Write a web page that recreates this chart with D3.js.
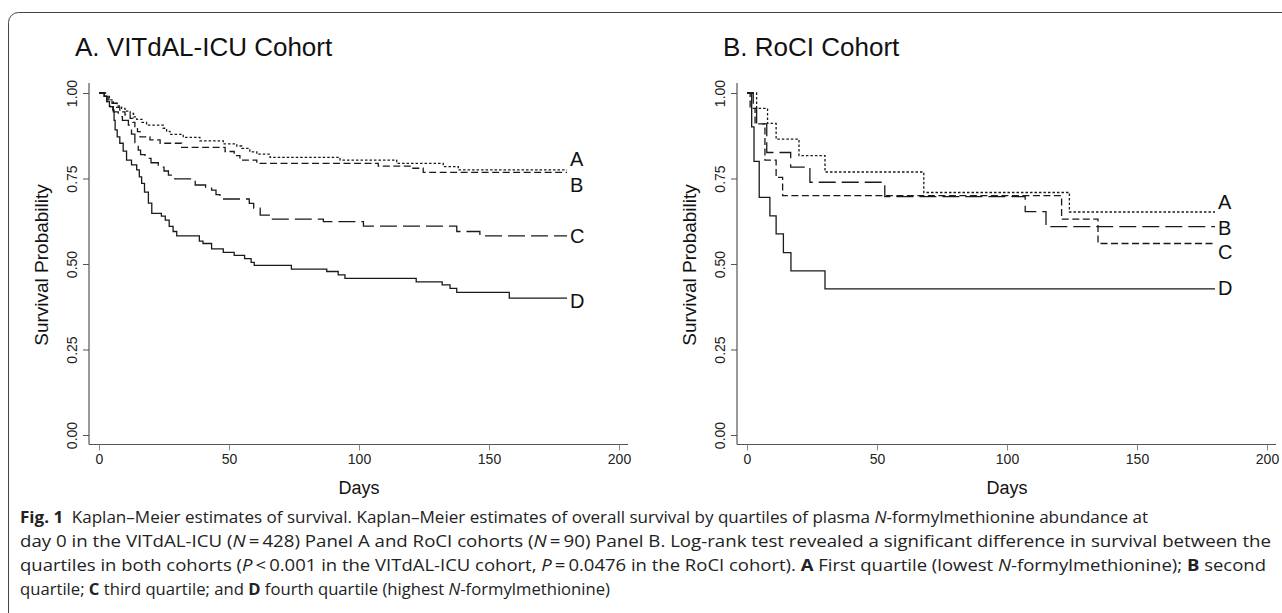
<!DOCTYPE html>
<html>
<head>
<meta charset="utf-8">
<script src="https://cdn.jsdelivr.net/npm/d3@7"></script>
<style>
  html, body { margin:0; padding:0; background:#fff; }
  svg { display:block; }
</style>
</head>
<body>
<svg id="fig" width="1282" height="613"></svg>
<script>
// tick labels
var xTicks = [0, 50, 100, 150, 200];
var yTicks = [0, 0.25, 0.5, 0.75, 1];
var curveNames = ["A", "B", "C", "D"];

// VITdAL-ICU cohort, [day, survival]
var vitdalA = [[0,1],[2.5,0.99],[4,0.98],[5.5,0.97],[7,0.962],[8.7,0.955],[10,0.947],[12,0.94],[13.3,0.93],[14.5,0.923],[16.5,0.914],[18.3,0.906],[24.7,0.897],[26,0.888],[27.3,0.879],[32.4,0.87],[38.8,0.86],[47.8,0.851],[53,0.845],[54.9,0.838],[58,0.828],[60.7,0.821],[65.8,0.812],[92.7,0.804],[114.5,0.794],[132.4,0.785],[138.2,0.775],[180,0.775]];
var vitdalB = [[0,1],[2.3,0.99],[3.5,0.98],[5,0.97],[6.5,0.958],[8,0.945],[10,0.936],[12,0.926],[13,0.914],[13.8,0.902],[14.8,0.887],[15.8,0.872],[19.6,0.863],[23.5,0.853],[31.8,0.841],[48.5,0.829],[52,0.817],[54.2,0.804],[60.7,0.794],[107.4,0.786],[119.6,0.78],[124.7,0.768],[180,0.768]];
var vitdalC = [[0,1],[2,0.99],[3,0.975],[4.2,0.96],[5.5,0.945],[7.4,0.931],[9,0.92],[11.3,0.906],[12.5,0.88],[13.8,0.855],[15.1,0.833],[16,0.82],[17.7,0.809],[20,0.796],[22.8,0.783],[25,0.772],[26.7,0.76],[29.2,0.749],[37,0.731],[41,0.724],[43.3,0.716],[45,0.703],[46.5,0.69],[57.8,0.677],[59.5,0.663],[62,0.643],[66.4,0.631],[86.3,0.624],[101.7,0.611],[137.6,0.595],[146.5,0.582],[180,0.582]];
var vitdalD = [[0,1],[2,0.99],[3,0.975],[4,0.96],[5.3,0.95],[5.8,0.92],[6.2,0.892],[7,0.872],[8,0.853],[9.3,0.83],[10.6,0.804],[12.5,0.79],[14.5,0.775],[15.5,0.755],[16.4,0.736],[17.5,0.71],[19,0.678],[20.3,0.648],[24,0.64],[25.5,0.628],[27,0.61],[28.5,0.595],[29.9,0.582],[38.6,0.567],[40,0.56],[43.3,0.544],[47.8,0.534],[52,0.525],[56,0.516],[58.5,0.505],[59.7,0.496],[74,0.485],[87.6,0.478],[92,0.468],[94.6,0.458],[122,0.448],[132,0.439],[135,0.429],[137.6,0.417],[157.8,0.4],[180,0.4]];

// RoCI cohort
var rociA = [[0,1],[3.7,0.955],[7.9,0.911],[11.2,0.865],[20,0.817],[30,0.769],[68,0.709],[124,0.652],[180,0.652]];
var rociB = [[0,1],[2.4,0.955],[3.7,0.91],[7.6,0.826],[16.8,0.783],[24.2,0.739],[53,0.697],[107,0.653],[115,0.609],[180,0.609]];
var rociC = [[0,1],[1.2,0.955],[3.1,0.91],[6.9,0.804],[11.2,0.753],[13.7,0.7],[121,0.631],[135,0.56],[180,0.56]];
var rociD = [[0,1],[1.8,0.901],[2.7,0.8],[4.7,0.695],[8.8,0.641],[11.2,0.588],[14,0.533],[16.9,0.48],[30,0.427],[180,0.427]];

var svg = d3.select("#fig");
var sans = "'Liberation Sans', Arial, sans-serif";

// frame round the figure
svg.append("rect")
  .attr("x", 8.5).attr("y", 12.5)
  .attr("width", 1300).attr("height", 640)
  .attr("rx", 10)
  .attr("fill", "none").attr("stroke", "#444").attr("stroke-width", 1);

function drawPanel(o) {
  var g = svg.append("g");
  var x = d3.scaleLinear().domain([0, 200]).range([o.x0, o.x0 + 520]);
  var y = d3.scaleLinear().domain([0, 1]).range([435, 93]);

  g.append("text").attr("x", o.titleX).attr("y", 56)
    .attr("font-family", sans).attr("font-size", 26).attr("fill", "#111")
    .text(o.title);

  // axis lines
  g.append("line").attr("x1", o.x0 - 10).attr("x2", o.x0 - 10).attr("y1", 83).attr("y2", 444.5)
    .attr("stroke", "#555").attr("stroke-width", 1.2);
  g.append("line").attr("x1", o.x0 - 10).attr("x2", o.x0 + 529).attr("y1", 444.5).attr("y2", 444.5)
    .attr("stroke", "#555").attr("stroke-width", 1.2);

  var xa = g.append("g").attr("transform", "translate(0,444.5)")
    .call(d3.axisBottom(x).tickValues(xTicks).tickSize(6).tickPadding(4));
  xa.select(".domain").remove();
  xa.selectAll("line").attr("stroke", "#888");
  xa.selectAll("text").attr("font-family", sans).attr("font-size", 14).attr("fill", "#222");

  var ya = g.append("g").attr("transform", "translate(" + (o.x0 - 10) + ",0)")
    .call(d3.axisLeft(y).tickValues(yTicks).tickSize(6).tickFormat(d3.format(".2f")));
  ya.select(".domain").remove();
  ya.selectAll("line").attr("stroke", "#555");
  ya.selectAll("text")
    .attr("font-family", sans).attr("font-size", 14).attr("fill", "#222")
    .attr("x", null).attr("dy", null)
    .attr("text-anchor", "middle")
    .attr("transform", "translate(-12,0) rotate(-90)");

  g.append("text")
    .attr("transform", "translate(" + (o.x0 - 51) + ",265) rotate(-90)")
    .attr("text-anchor", "middle").attr("font-family", sans).attr("font-size", 19).attr("fill", "#111")
    .text("Survival Probability");
  g.append("text").attr("x", x(100)).attr("y", 494)
    .attr("text-anchor", "middle").attr("font-family", sans).attr("font-size", 18).attr("fill", "#111")
    .text("Days");

  var line = d3.line().x(function(d){ return x(d[0]); }).y(function(d){ return y(d[1]); })
    .curve(d3.curveStepAfter);

  o.curves.forEach(function(c, i){
    g.append("path").datum(c)
      .attr("d", line)
      .attr("fill", "none").attr("stroke", "#1a1a1a").attr("stroke-width", 1.3)
      .attr("stroke-dasharray", o.dashes[i]);
    g.append("text").attr("x", x(180) + 3).attr("y", o.labelY[i])
      .attr("dy", "0.36em").attr("font-family", sans).attr("font-size", 20).attr("fill", "#111")
      .text(curveNames[i]);
  });
}

drawPanel({
  x0: 99, titleX: 75, title: "A. VITdAL-ICU Cohort",
  curves: [vitdalA, vitdalB, vitdalC, vitdalD],
  dashes: ["2.5,2", "7,3.5", "17,6", null],
  labelY: [159, 185, 236, 301]
});
drawPanel({
  x0: 747, titleX: 723, title: "B. RoCI Cohort",
  curves: [rociA, rociB, rociC, rociD],
  dashes: ["2.5,2", "17,6", "7,3.5", null],
  labelY: [202, 228, 252, 288]
});

// caption
var capLines = [
  [["b","Fig. 1"],["","\u2002Kaplan\u2013Meier estimates of survival. Kaplan\u2013Meier estimates of overall survival by quartiles of plasma "],["i","N"],["","-formylmethionine abundance at"]],
  [["","day 0 in the VITdAL-ICU ("],["i","N"],["","\u2009=\u2009428) Panel A and RoCI cohorts ("],["i","N"],["","\u2009=\u200990) Panel B. Log-rank test revealed a significant difference in survival between the"]],
  [["","quartiles in both cohorts ("],["i","P"],["","\u2009<\u20090.001 in the VITdAL-ICU cohort, "],["i","P"],["","\u2009=\u20090.0476 in the RoCI cohort). "],["b","A"],[""," First quartile (lowest "],["i","N"],["","-formylmethionine); "],["b","B"],[""," second"]],
  [["","quartile; "],["b","C"],[""," third quartile; and "],["b","D"],[""," fourth quartile (highest "],["i","N"],["","-formylmethionine)"]]
];
var capWidths = [1128, 1251, 1246, 590];
var cap = svg.append("g");
capLines.forEach(function(parts, i){
  var t = cap.append("text").attr("x", 20).attr("y", 523 + i * 24)
    .attr("font-family", "'Open Sans', sans-serif").attr("font-size", 16.5).attr("fill", "#222")
    .attr("xml:space", "preserve")
    .attr("textLength", capWidths[i]).attr("lengthAdjust", "spacingAndGlyphs");
  parts.forEach(function(p){
    var s = t.append("tspan").text(p[1]);
    if (p[0] === "b") s.attr("font-weight", "bold");
    if (p[0] === "i") s.attr("font-style", "italic");
  });
});
</script>
</body>
</html>
